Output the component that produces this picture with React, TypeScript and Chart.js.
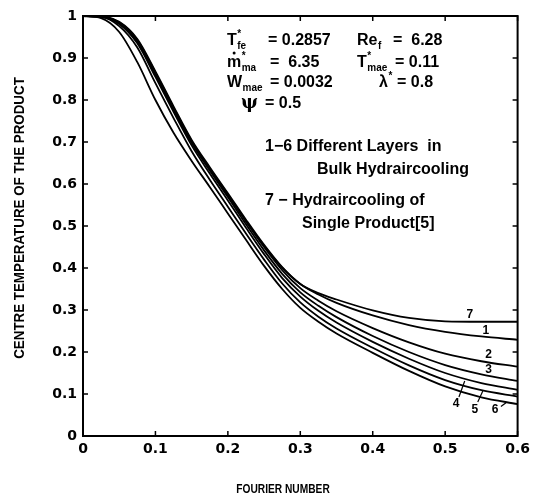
import React, { useEffect, useRef } from "react";
import { Chart, registerables } from "chart.js";
Chart.register(...registerables);

const fourier = [0, 0.025, 0.05, 0.075, 0.1, 0.125, 0.15, 0.175, 0.2, 0.225, 0.25, 0.275, 0.3, 0.325, 0.35, 0.4, 0.45, 0.5, 0.55, 0.6];
const curve1 = [1, 0.999, 0.986, 0.945, 0.868, 0.785, 0.705, 0.64, 0.578, 0.515, 0.455, 0.402, 0.362, 0.337, 0.317, 0.287, 0.264, 0.248, 0.237, 0.229];
const curve2 = [1, 0.999, 0.985, 0.943, 0.865, 0.782, 0.702, 0.637, 0.575, 0.511, 0.45, 0.395, 0.352, 0.322, 0.297, 0.257, 0.223, 0.196, 0.178, 0.165];
const curve3 = [1, 0.999, 0.983, 0.94, 0.861, 0.778, 0.698, 0.632, 0.569, 0.504, 0.442, 0.386, 0.342, 0.31, 0.283, 0.238, 0.2, 0.169, 0.147, 0.131];
const curve4 = [1, 0.999, 0.981, 0.935, 0.855, 0.772, 0.692, 0.625, 0.561, 0.496, 0.433, 0.376, 0.332, 0.298, 0.27, 0.224, 0.184, 0.15, 0.126, 0.11];
const curve5 = [1, 0.998, 0.976, 0.925, 0.84, 0.757, 0.678, 0.61, 0.546, 0.482, 0.42, 0.363, 0.318, 0.284, 0.256, 0.21, 0.168, 0.133, 0.109, 0.094];
const curve6 = [1, 0.995, 0.962, 0.89, 0.8, 0.722, 0.655, 0.593, 0.53, 0.467, 0.405, 0.35, 0.305, 0.272, 0.244, 0.198, 0.155, 0.118, 0.092, 0.076];
const curve7 = [1, 0.998, 0.982, 0.938, 0.86, 0.778, 0.7, 0.635, 0.574, 0.512, 0.453, 0.401, 0.362, 0.34, 0.325, 0.299, 0.281, 0.273, 0.272, 0.272];

const xTickValues = [0, 0.1, 0.2, 0.3, 0.4, 0.5, 0.6];
const xTickLabels = ["0", "0.1", "0.2", "0.3", "0.4", "0.5", "0.6"];
const yTickValues = [0, 0.1, 0.2, 0.3, 0.4, 0.5, 0.6, 0.7, 0.8, 0.9, 1];
const yTickLabels = ["0", "0.1", "0.2", "0.3", "0.4", "0.5", "0.6", "0.7", "0.8", "0.9", "1"];

const xTitle = "FOURIER NUMBER";
const yTitle = "CENTRE TEMPERATURE OF THE PRODUCT";

const TEXT_FONT = "bold 16px 'Liberation Sans'";
const SMALL_FONT = "bold 10px 'Liberation Sans'";

function sym(ctx: CanvasRenderingContext2D, x: number, y: number, base: string, sup: string, sub: string, dot = false) {
  ctx.font = TEXT_FONT;
  ctx.fillText(base, x, y);
  const w = ctx.measureText(base).width;
  if (dot) {
    ctx.beginPath();
    ctx.arc(x + w / 2, y - 14, 1.5, 0, Math.PI * 2);
    ctx.fill();
  }
  ctx.font = SMALL_FONT;
  if (sup) ctx.fillText(sup, x + w + 0.5, y - 8);
  if (sub) ctx.fillText(sub, x + w + 0.5, y + 4);
}

const annotate = {
  id: "annotate",
  afterDraw(chart: any) {
    const ctx: CanvasRenderingContext2D = chart.ctx;
    const { left, right, top, bottom } = chart.chartArea;
    const xs = chart.scales.x;
    const ys = chart.scales.y;
    ctx.save();
    ctx.strokeStyle = "#000";
    ctx.fillStyle = "#000";
    ctx.lineWidth = 2;
    ctx.strokeRect(left, top, right - left, bottom - top);
    ctx.lineWidth = 1.5;
    const tl = 5;
    xTickValues.forEach((v) => {
      const p = xs.getPixelForValue(v);
      ctx.beginPath();
      ctx.moveTo(p, bottom);
      ctx.lineTo(p, bottom - tl);
      ctx.moveTo(p, top);
      ctx.lineTo(p, top + tl);
      ctx.stroke();
    });
    yTickValues.forEach((v) => {
      const p = ys.getPixelForValue(v);
      ctx.beginPath();
      ctx.moveTo(left, p);
      ctx.lineTo(left + tl, p);
      ctx.moveTo(right, p);
      ctx.lineTo(right - tl, p);
      ctx.stroke();
    });

    // axis titles
    ctx.textBaseline = "middle";
    ctx.textAlign = "center";
    ctx.save();
    ctx.translate(283, 490);
    ctx.scale(0.85, 1);
    ctx.font = "bold 12px 'Liberation Sans'";
    ctx.fillText(xTitle, 0, 0);
    ctx.restore();
    ctx.save();
    ctx.translate(20, 218);
    ctx.rotate(-Math.PI / 2);
    ctx.scale(0.89, 1);
    ctx.font = "bold 15px 'Liberation Sans'";
    ctx.fillText(yTitle, 0, 0);
    ctx.restore();

    // parameter block
    ctx.textAlign = "left";
    ctx.textBaseline = "alphabetic";
    sym(ctx, 227, 45, "T", "*", "fe");
    ctx.font = TEXT_FONT;
    ctx.fillText("= 0.2857", 268, 45);
    sym(ctx, 357, 45, "Re", "", "f");
    ctx.font = TEXT_FONT;
    ctx.fillText("=  6.28", 393, 45);
    sym(ctx, 227, 67, "m", "*", "ma", true);
    ctx.font = TEXT_FONT;
    ctx.fillText("=  6.35", 270, 67);
    sym(ctx, 357, 67, "T", "*", "mae");
    ctx.font = TEXT_FONT;
    ctx.fillText("= 0.11", 395, 67);
    sym(ctx, 227, 87, "W", "", "mae");
    ctx.font = TEXT_FONT;
    ctx.fillText("= 0.0032", 270, 87);
    sym(ctx, 379, 87, "\u03bb", "*", "");
    ctx.font = TEXT_FONT;
    ctx.fillText("= 0.8", 397, 87);
    ctx.font = "bold 18px 'DejaVu Serif'";
    ctx.fillText("\u03c8", 241, 108);
    ctx.font = TEXT_FONT;
    ctx.fillText("= 0.5", 265, 108);

    ctx.fillText("1\u22126 Different Layers  in", 265, 151);
    ctx.fillText("Bulk Hydraircooling", 317, 174);
    ctx.fillText("7 \u2212 Hydraircooling of", 265, 205);
    ctx.fillText("Single Product[5]", 302, 228);

    // curve labels
    ctx.font = "bold 12px 'Liberation Sans'";
    ctx.textAlign = "center";
    ctx.textBaseline = "middle";
    const lab = (t: string, f: number, v: number) => ctx.fillText(t, xs.getPixelForValue(f), ys.getPixelForValue(v));
    lab("7", 0.534, 0.288);
    lab("1", 0.556, 0.25);
    lab("2", 0.56, 0.193);
    lab("3", 0.56, 0.157);
    lab("4", 0.515, 0.076);
    lab("5", 0.541, 0.062);
    lab("6", 0.569, 0.062);
    ctx.lineWidth = 1.2;
    const lead = (f1: number, v1: number, f2: number, v2: number) => {
      ctx.beginPath();
      ctx.moveTo(xs.getPixelForValue(f1), ys.getPixelForValue(v1));
      ctx.lineTo(xs.getPixelForValue(f2), ys.getPixelForValue(v2));
      ctx.stroke();
    };
    lead(0.527, 0.131, 0.519, 0.093);
    lead(0.552, 0.107, 0.545, 0.081);
    lead(0.584, 0.079, 0.577, 0.07);
    ctx.restore();
  },
};

export default function App() {
  const ref = useRef<HTMLCanvasElement>(null);
  useEffect(() => {
    document.body.style.margin = "0";
    const canvas = ref.current!;
    const mk = (vals: number[]) => fourier.map((x, i) => ({ x, y: vals[i] }));
    const series = [curve1, curve2, curve3, curve4, curve5, curve6, curve7];
    const names = ["1", "2", "3", "4", "5", "6", "7"];
    const chart = new Chart(canvas, {
      type: "line",
      data: {
        datasets: series.map((s, i) => ({
          label: names[i],
          data: mk(s),
          borderColor: "#000",
          borderWidth: 1.8,
          pointRadius: 0,
          fill: false,
          cubicInterpolationMode: "monotone" as const,
        })),
      },
      options: {
        responsive: false,
        animation: false,
        events: [],
        layout: { padding: { top: 16, right: 15, left: 0, bottom: 0 } },
        plugins: { legend: { display: false }, tooltip: { enabled: false } },
        scales: {
          x: {
            type: "linear",
            min: 0,
            max: 0.6,
            afterBuildTicks: (s: any) => {
              s.ticks = xTickValues.map((v) => ({ value: v }));
            },
            afterFit: (s: any) => {
              s.height = 64;
            },
            ticks: {
              autoSkip: false,
              maxRotation: 0,
              padding: 5,
              color: "#000",
              font: { family: "DejaVu Sans", weight: "bold", size: 14 },
              callback: (v: any) => {
                const i = xTickValues.findIndex((t) => Math.abs(t - v) < 1e-6);
                return i >= 0 ? xTickLabels[i] : "";
              },
            },
            grid: { display: false, drawTicks: false },
            border: { display: false },
          },
          y: {
            type: "linear",
            min: 0,
            max: 1,
            afterBuildTicks: (s: any) => {
              s.ticks = yTickValues.map((v) => ({ value: v }));
            },
            afterFit: (s: any) => {
              s.width = 83;
            },
            ticks: {
              autoSkip: false,
              padding: 6,
              color: "#000",
              font: { family: "DejaVu Sans", weight: "bold", size: 14 },
              callback: (v: any) => {
                const i = yTickValues.findIndex((t) => Math.abs(t - v) < 1e-6);
                return i >= 0 ? yTickLabels[i] : "";
              },
            },
            grid: { display: false, drawTicks: false },
            border: { display: false },
          },
        },
      },
      plugins: [annotate],
    });
    return () => chart.destroy();
  }, []);
  return (
    <div style={{ width: 535, height: 500 }}>
      <canvas ref={ref} width={535} height={500} style={{ display: "block" }} />
    </div>
  );
}
